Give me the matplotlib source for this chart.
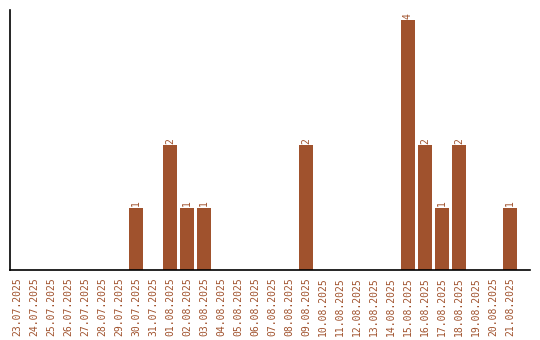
import matplotlib
matplotlib.use("Agg")
import matplotlib.pyplot as plt

dates = ['23.07.2025', '24.07.2025', '25.07.2025', '26.07.2025', '27.07.2025',
         '28.07.2025', '29.07.2025', '30.07.2025', '31.07.2025', '01.08.2025',
         '02.08.2025', '03.08.2025', '04.08.2025', '05.08.2025', '06.08.2025',
         '07.08.2025', '08.08.2025', '09.08.2025', '10.08.2025', '11.08.2025',
         '12.08.2025', '13.08.2025', '14.08.2025', '15.08.2025', '16.08.2025',
         '17.08.2025', '18.08.2025', '19.08.2025', '20.08.2025', '21.08.2025']
counts = [0, 0, 0, 0, 0, 0, 0, 1, 0, 2,
          1, 1, 0, 0, 0, 0, 0, 2, 0, 0,
          0, 0, 0, 4, 2, 1, 2, 0, 0, 1]

col = '#a0522d'

fig = plt.figure(figsize=(5.4, 3.4), dpi=100)
ax = fig.add_axes([10/540, 70/340, 520/540, 260/340])
pos = range(len(dates))
ax.bar(pos, counts, width=0.82, color=col)
# count above each non-empty bar
for i, c in enumerate(counts):
    if c > 0:
        ax.text(i, c + 0.02, str(c), rotation=90, ha='center', va='bottom',
                fontsize=7, color=col, family='DejaVu Sans Mono')

ax.set_xlim(-0.41, 30.18)
ax.set_ylim(0, 4.16)
ax.set_xticks(list(pos))
ax.set_xticklabels(dates, rotation=90, fontsize=7, color=col, family='DejaVu Sans Mono')
ax.tick_params(axis='x', length=0, pad=5)
ax.set_yticks([])
ax.spines['top'].set_visible(False)
ax.spines['right'].set_visible(False)
ax.spines['left'].set_linewidth(1.2)
ax.spines['bottom'].set_linewidth(1.2)

plt.savefig('out.png')
